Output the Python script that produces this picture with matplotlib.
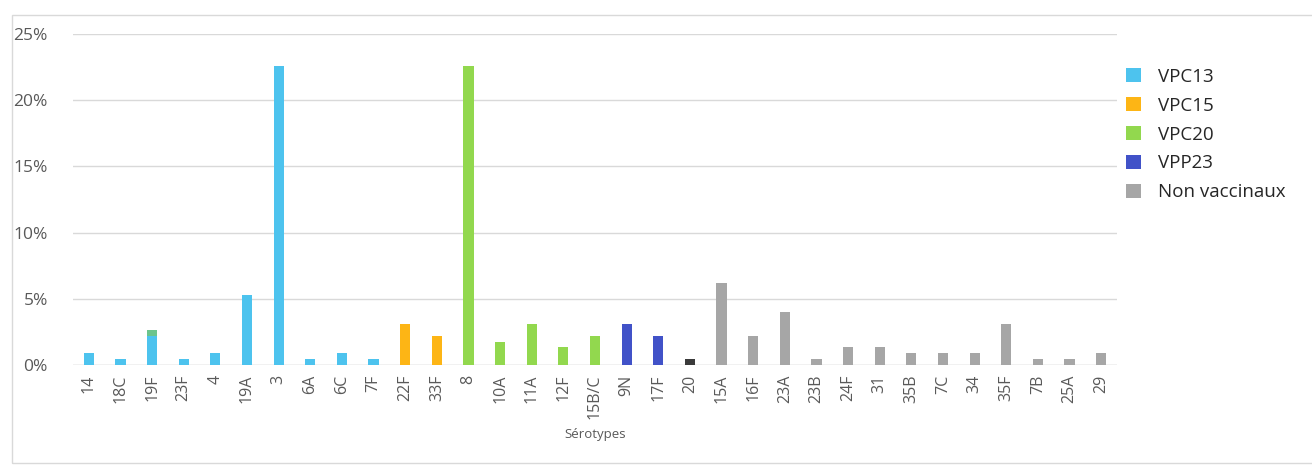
import numpy as np
import matplotlib
matplotlib.use("Agg")
import matplotlib.pyplot as plt
from matplotlib.patches import Rectangle, Patch
from matplotlib.ticker import FuncFormatter

# donnees (% des serotypes)
serotypes = ["14", "18C", "19F", "23F", "4", "19A", "3", "6A", "6C", "7F",
             "22F", "33F",
             "8", "10A", "11A", "12F", "15B/C",
             "9N", "17F", "20",
             "15A", "16F", "23A", "23B", "24F", "31", "35B", "7C", "34", "35F",
             "7B", "25A", "29"]
pourcent = [0.88, 0.44, 2.21, 0.44, 0.88, 5.31, 22.57, 0.44, 0.88, 0.44,
            3.10, 2.21,
            22.57, 1.77, 3.10, 1.33, 2.21,
            3.10, 2.21, 0.44,
            6.19, 2.21, 3.98, 0.44, 1.33, 1.33, 0.88, 0.88, 0.88, 3.10,
            0.44, 0.44, 0.88]
# petit segment vert au dessus de 19F
extra = [0, 0, 0.44] + [0] * 30
groupe = ["VPC13"] * 10 + ["VPC15"] * 2 + ["VPC20"] * 5 + ["VPP23"] * 2 + ["20"] + ["Non vaccinaux"] * 13

couleurs = {"VPC13": "#4DC3EE", "VPC15": "#FDB515", "VPC20": "#92D84E",
            "VPP23": "#4152C8", "Non vaccinaux": "#A6A6A6", "20": "#3A3A3A"}
legende = ["VPC13", "VPC15", "VPC20", "VPP23", "Non vaccinaux"]

plt.rcParams["font.family"] = ["Open Sans", "DejaVu Sans"]

fig = plt.figure(figsize=(13.12, 4.68), dpi=100)
fig.patches.append(Rectangle((12 / 1312, 5 / 468), 1.1, 448 / 468, transform=fig.transFigure,
                             fill=False, edgecolor="#D9D9D9", linewidth=1))

ax = fig.add_axes([73 / 1312, 1 - 365 / 468, 1044 / 1312, 331 / 468])
x = np.arange(len(serotypes))
cols = [couleurs[g] for g in groupe]
ax.bar(x, pourcent, width=0.32, color=cols, zorder=3)
ax.bar(x, extra, width=0.32, bottom=pourcent, color="#6CC48C", zorder=3)

ax.set_xlim(-0.5, len(serotypes) - 0.5)
ax.set_ylim(0, 25)
ax.set_yticks([0, 5, 10, 15, 20, 25])
ax.yaxis.set_major_formatter(FuncFormatter(lambda v, p: "%d%%" % v))
ax.grid(axis="y", color="#D9D9D9", linewidth=1, zorder=0)
for s in ax.spines.values():
    s.set_visible(False)
ax.axhline(0, color="#D9D9D9", linewidth=1, zorder=1)
ax.tick_params(axis="y", length=0, pad=18, labelsize=12.5, labelcolor="#595959")
ax.set_xticks(x)
ax.set_xticklabels(serotypes, rotation=90, fontsize=11.5, color="#595959")
ax.tick_params(axis="x", length=0, pad=7)
ax.set_xlabel("Sérotypes", fontsize=9.5, color="#595959", labelpad=6)

handles = [Patch(facecolor=couleurs[g]) for g in legende]
fig.legend(handles, legende, loc="upper left", bbox_to_anchor=(1109 / 1312, 1 - 51 / 468),
           frameon=False, fontsize=13.5, handlelength=0.78, handleheight=0.78,
           handletextpad=0.95, labelspacing=0.58, labelcolor="#262626")

fig.savefig("out.png", dpi=100)
